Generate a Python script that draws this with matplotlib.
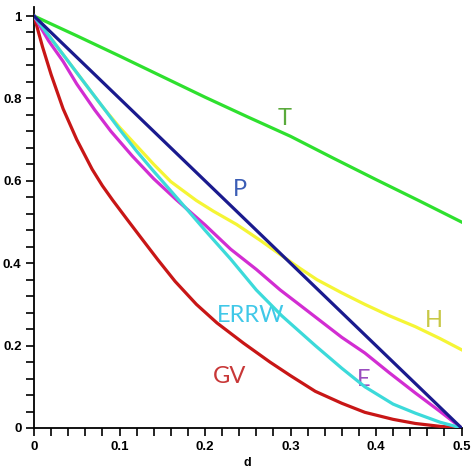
import matplotlib
matplotlib.use("Agg")
import matplotlib.pyplot as plt
from matplotlib.ticker import MultipleLocator, FixedLocator

# ---- data ----
d_T = [0, 0.05, 0.1, 0.15, 0.2, 0.25, 0.3, 0.35, 0.4, 0.45, 0.5]
v_T = [1, 0.952, 0.903, 0.853, 0.803, 0.755, 0.708, 0.655, 0.603, 0.552, 0.5]

d_P = [0, 0.05, 0.1, 0.15, 0.2, 0.25, 0.3, 0.35, 0.4, 0.45, 0.5]
v_P = [1, 0.9, 0.8, 0.7, 0.6, 0.5, 0.4, 0.3, 0.2, 0.1, 0]

d_H = [0, 0.02, 0.04, 0.06, 0.08, 0.10, 0.12, 0.14, 0.16, 0.19, 0.21, 0.237,
       0.265, 0.29, 0.31, 0.331, 0.36, 0.387, 0.415, 0.446, 0.475, 0.5]
v_H = [1, 0.945, 0.89, 0.835, 0.78, 0.73, 0.685, 0.64, 0.598, 0.552, 0.526, 0.494,
       0.455, 0.418, 0.389, 0.36, 0.328, 0.30, 0.273, 0.246, 0.217, 0.19]

d_E = [0, 0.017, 0.034, 0.05, 0.071, 0.09, 0.115, 0.14, 0.167, 0.2, 0.23, 0.26,
       0.288, 0.31, 0.335, 0.36, 0.387, 0.415, 0.446, 0.475, 0.5]
v_E = [1, 0.94, 0.89, 0.835, 0.772, 0.72, 0.66, 0.605, 0.553, 0.493, 0.434, 0.385,
       0.335, 0.30, 0.26, 0.22, 0.182, 0.135, 0.085, 0.04, 0]

d_ERRW = [0, 0.02, 0.04, 0.06, 0.082, 0.10, 0.12, 0.14, 0.159, 0.18, 0.2, 0.23,
          0.26, 0.29, 0.329, 0.36, 0.387, 0.42, 0.446, 0.475, 0.5]
v_ERRW = [1, 0.945, 0.89, 0.835, 0.775, 0.725, 0.672, 0.623, 0.578, 0.528, 0.48, 0.41,
          0.335, 0.272, 0.200, 0.145, 0.10, 0.058, 0.036, 0.014, 0]

d_GV = [0, 0.01, 0.02, 0.034, 0.05, 0.068, 0.08, 0.092, 0.109, 0.124, 0.145, 0.165,
        0.19, 0.214, 0.245, 0.276, 0.30, 0.329, 0.36, 0.387, 0.42, 0.446, 0.475, 0.5]
v_GV = [1, 0.925, 0.858, 0.775, 0.70, 0.628, 0.588, 0.553, 0.506, 0.465, 0.408, 0.356,
        0.300, 0.255, 0.206, 0.160, 0.127, 0.089, 0.060, 0.038, 0.021, 0.011, 0.004, 0]

x_ticks = [0, 0.1, 0.2, 0.3, 0.4, 0.5]
x_tick_labels = ["0", "0.1", "0.2", "0.3", "0.4", "0.5"]
y_ticks = [0, 0.2, 0.4, 0.6, 0.8, 1]
y_tick_labels = ["0", "0.2", "0.4", "0.6", "0.8", "1"]

fig = plt.figure(figsize=(4.75, 4.72), dpi=100)
ax = fig.add_axes([34 / 475, 1 - 428 / 472, (461.5 - 34) / 475, (428 - 7) / 472])

lw = 2.3
ax.plot(d_T, v_T, color="#2ee02e", lw=lw, zorder=3)
ax.plot(d_H, v_H, color="#f5f535", lw=lw, zorder=3)
ax.plot(d_ERRW, v_ERRW, color="#3cdada", lw=lw, zorder=4)
ax.plot(d_E, v_E, color="#d22dd2", lw=lw, zorder=3.5)
ax.plot(d_P, v_P, color="#1a1a8e", lw=lw, zorder=5)
ax.plot(d_GV, v_GV, color="#c81616", lw=lw, zorder=3)

lab_font = dict(family="Lato", fontsize=17, ha="center", va="center")
ax.text(0.2936, 0.752, "T", color="#5aaa3c", **lab_font)
ax.text(0.241, 0.578, "P", color="#3b5db5", **lab_font)
ax.text(0.468, 0.262, "H", color="#c8c846", **lab_font)
ax.text(0.253, 0.272, "ERRW", color="#40c8e8", **lab_font)
ax.text(0.229, 0.124, "GV", color="#c83737", **lab_font)
ax.text(0.386, 0.117, "E", color="#9a4dbf", **lab_font)

ax.set_xlim(0, 0.5)
ax.set_ylim(0, 1 + 9 / 412)
ax.spines["top"].set_visible(False)
ax.spines["right"].set_visible(False)
for s in ("left", "bottom"):
    ax.spines[s].set_linewidth(1.3)

ax.xaxis.set_major_locator(FixedLocator(x_ticks))
ax.yaxis.set_major_locator(FixedLocator(y_ticks))
ax.set_xticklabels(x_tick_labels)
ax.set_yticklabels(y_tick_labels)
ax.xaxis.set_minor_locator(MultipleLocator(0.02))
ax.yaxis.set_minor_locator(MultipleLocator(0.04))
ax.tick_params(which="both", direction="out", length=6, width=1.2, color="black")
ax.tick_params(axis="both", which="major", labelsize=9.5, pad=3)
for lbl in ax.get_xticklabels() + ax.get_yticklabels():
    lbl.set_fontweight("bold")
    lbl.set_family("Liberation Sans")

ax.set_xlabel("d", fontweight="bold", fontsize=9, family="Liberation Sans", labelpad=3)

fig.savefig("out.png", dpi=100, facecolor="white")
